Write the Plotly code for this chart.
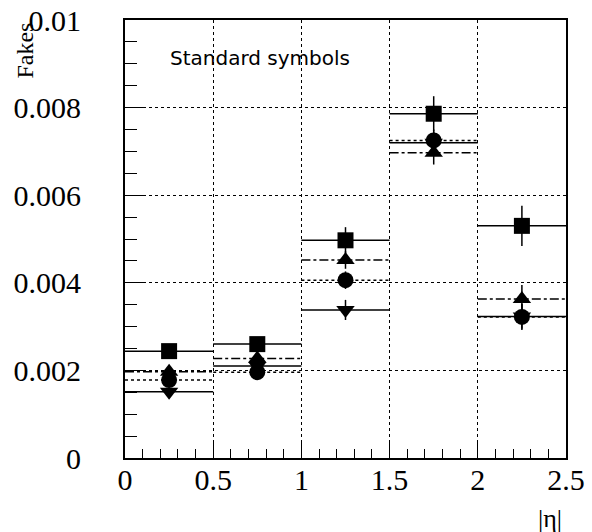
import plotly.graph_objects as go

# ---- data ----
bin_centers = [0.25, 0.75, 1.25, 1.75, 2.25]
bin_half = [0.25, 0.25, 0.25, 0.25, 0.25]

sq_y = [0.00244, 0.00260, 0.00497, 0.00786, 0.00530]
sq_err = [0.00010, 0.00010, 0.00030, 0.00040, 0.00046]

tu_y = [0.00197, 0.00227, 0.00452, 0.00697, 0.00363]
tu_err = [0.00010, 0.00010, 0.00020, 0.00027, 0.00032]

ci_y = [0.00178, 0.00196, 0.00406, 0.00725, 0.00322]
ci_err = [0.00010, 0.00010, 0.00020, 0.00025, 0.00030]

td_y = [0.00151, 0.00210, 0.00338, 0.00720, 0.00323]
td_err = [0.00010, 0.00010, 0.00023, 0.00025, 0.00028]

x_tickvals = [0, 0.5, 1, 1.5, 2, 2.5]
x_ticktext = ["0", "0.5", "1", "1.5", "2", "2.5"]
y_tickvals = [0, 0.002, 0.004, 0.006, 0.008, 0.01]
y_ticktext = ["0", "0.002", "0.004", "0.006", "0.008", "0.01"]

SERIF = "Liberation Serif, Times New Roman, Times, serif"

series = [
    ("square", sq_y, sq_err, "solid"),
    ("triangle-up", tu_y, tu_err, "dashdot"),
    ("triangle-down", td_y, td_err, "solid"),
    ("circle", ci_y, ci_err, "3px,3px"),
]

fig = go.Figure()

for sym, ys, errs, dash in series:
    hx, hy = [], []
    for xc, hw, yv in zip(bin_centers, bin_half, ys):
        hx += [xc - hw, xc + hw, None]
        hy += [yv, yv, None]
    fig.add_trace(go.Scatter(x=hx, y=hy, mode="lines",
                             line=dict(color="black", width=1.5, dash=dash),
                             showlegend=False, hoverinfo="skip"))
    fig.add_trace(go.Scatter(x=bin_centers, y=ys, mode="markers",
                             marker=dict(symbol=sym, size=16, color="black"),
                             error_y=dict(type="data", array=errs, visible=True,
                                          color="black", thickness=1.5, width=0),
                             showlegend=False))

fig.update_layout(
    width=592, height=532,
    margin=dict(l=125, r=26, t=20, b=74),
    paper_bgcolor="white", plot_bgcolor="white",
    font=dict(family=SERIF, color="black"),
    xaxis=dict(range=[0, 2.5], tickmode="array", tickvals=x_tickvals, ticktext=x_ticktext,
               automargin=False,
               ticks="inside", ticklen=17, tickwidth=1, tickcolor="black",
               ticklabelstandoff=-6,
               tickfont=dict(family=SERIF, size=30, color="black"),
               showline=True, linecolor="black", linewidth=2, mirror=True,
               showgrid=True, gridcolor="black", gridwidth=1, griddash="dot",
               zeroline=False,
               minor=dict(tickmode="linear", tick0=0, dtick=0.1, ticks="inside",
                          ticklen=9, tickcolor="black", tickwidth=1, showgrid=False)),
    yaxis=dict(range=[0, 0.01], tickmode="array", tickvals=y_tickvals, ticktext=y_ticktext,
               automargin=False,
               ticks="inside", ticklen=20, tickwidth=1, tickcolor="black",
               ticklabelstandoff=36,
               tickfont=dict(family=SERIF, size=30, color="black"),
               showline=True, linecolor="black", linewidth=2, mirror=True,
               showgrid=True, gridcolor="black", gridwidth=1, griddash="dot",
               zeroline=False,
               minor=dict(tickmode="linear", tick0=0, dtick=0.0005, ticks="inside",
                          ticklen=12, tickcolor="black", tickwidth=1, showgrid=False)),
    annotations=[
        dict(text="Standard symbols", xref="paper", yref="paper", x=0.307, y=0.914,
             showarrow=False, xanchor="center", yanchor="middle",
             font=dict(family="DejaVu Sans", size=20, color="black")),
        dict(text="Fakes", xref="paper", yref="paper", x=-0.227, y=0.93, textangle=-90,
             showarrow=False, xanchor="center", yanchor="middle",
             font=dict(family=SERIF, size=24, color="black")),
        dict(text="|η|", xref="paper", yref="paper", x=0.964, y=-0.139,
             showarrow=False, xanchor="center", yanchor="middle",
             font=dict(family=SERIF, size=26, color="black")),
    ],
)

fig.write_html("out.html")
